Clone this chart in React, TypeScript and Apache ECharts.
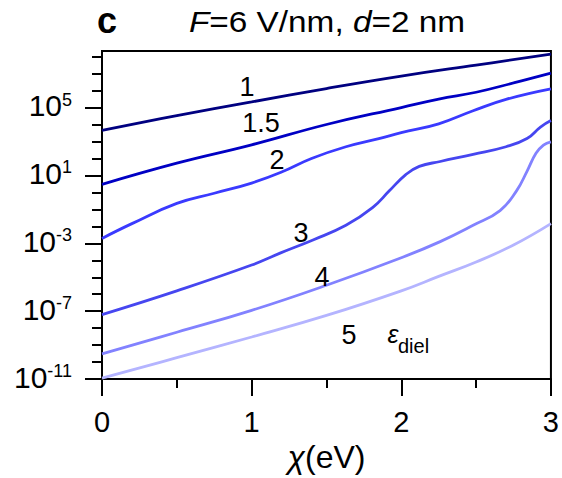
import React, { useEffect, useRef } from 'react';
import * as echarts from 'echarts';

// chi (eV) grid and log10 of the plotted quantity for each curve
const chi1 = [0, 0.5, 1, 1.5, 2, 2.5, 3];
const log1 = [3.65, 4.52, 5.33, 6.12, 6.85, 7.5, 8.14];

const chi15 = [0, 0.5, 1, 1.5, 2, 2.25, 2.5, 2.75, 3];
const log15 = [0.47, 1.72, 2.8, 4.0, 5.0, 5.5, 5.9, 6.45, 7.03];

const chi2 = [0, 0.2, 0.5, 0.75, 1, 1.2, 1.4, 1.63, 1.85, 2, 2.25, 2.48, 2.7, 3];
const log2 = [-2.71, -1.84, -0.65, -0.05, 0.55, 1.2, 2.0, 2.69, 3.17, 3.52, 4.04, 4.81, 5.48, 6.1];

const chi3 = [0, 0.5, 1, 1.19, 1.41, 1.63, 1.81, 1.92, 2.03, 2.12, 2.26, 2.48, 2.7, 2.84, 2.93, 3];
const log3 = [-7.2, -5.8, -4.28, -3.58, -2.8, -1.94, -0.88, 0.09, 1.05, 1.53, 1.82, 2.24, 2.69, 3.17, 3.85, 4.23];

const chi4 = [0, 0.5, 1, 1.5, 2, 2.26, 2.48, 2.66, 2.77, 2.84, 2.9, 2.95, 3];
const log4 = [-9.51, -8.24, -6.95, -5.47, -3.85, -2.9, -1.94, -1.07, 0.09, 1.24, 2.3, 2.78, 2.98];

const chi5 = [0, 0.5, 1, 1.5, 2, 2.25, 2.5, 2.75, 3];
const log5 = [-10.94, -9.74, -8.52, -7.25, -5.8, -4.95, -4.1, -3.1, -1.84];

const curveNames = ['1', '1.5', '2', '3', '4', '5'];
const curveColors = ['#000080', '#0000c4', '#3a3aff', '#4646f0', '#8282ff', '#b4b4ff'];
const curveChi = [chi1, chi15, chi2, chi3, chi4, chi5];
const curveLog = [log1, log15, log2, log3, log4, log5];

const yMin = -11;
const yMax = 8.33;
const decadeTicks = [-11, -10, -9, -8, -7, -6, -5, -4, -3, -2, -1, 0, 1, 2, 3, 4, 5, 6, 7, 8];
const labelledExps = [-11, -7, -3, 1, 5];
const xTicks = [0, 1, 2, 3];

const FONT = '"Liberation Sans", Arial, Helvetica, sans-serif';

export default function App() {
  const ref = useRef<HTMLDivElement>(null);

  useEffect(() => {
    if (!ref.current) return;
    const chart = echarts.init(ref.current, null, { renderer: 'svg' });
    const black = { color: '#000', width: 2 };

    const option: any = {
      animation: false,
      backgroundColor: '#fff',
      textStyle: { fontFamily: FONT },
      grid: {
        left: 102,
        right: 11,
        top: 51,
        bottom: 93,
        show: true,
        borderColor: '#000',
        borderWidth: 2,
        backgroundColor: 'transparent',
      },
      xAxis: {
        type: 'value',
        min: 0,
        max: 3,
        interval: 1,
        axisLine: { show: true, onZero: false, lineStyle: black },
        axisTick: { show: true, length: 17, lineStyle: black, customValues: xTicks },
        minorTick: { show: true, splitNumber: 2, length: 9, lineStyle: black },
        splitLine: { show: false },
        minorSplitLine: { show: false },
        axisLabel: { fontSize: 29, color: '#000', margin: 28, fontFamily: FONT, customValues: xTicks },
        name: '{c|χ}(eV)',
        nameLocation: 'middle',
        nameGap: 56,
        nameTextStyle: {
          fontSize: 32,
          color: '#000',
          fontFamily: FONT,
          rich: { c: { fontSize: 32, fontStyle: 'italic', color: '#000', fontFamily: FONT } },
        },
      },
      yAxis: [
        {
          type: 'value',
          min: yMin,
          max: yMax,
          interval: 1,
          position: 'left',
          axisLine: { show: true, onZero: false, lineStyle: black },
          axisTick: { show: true, length: 10, lineStyle: black, customValues: decadeTicks },
          axisLabel: { show: false },
          splitLine: { show: false },
        },
        {
          type: 'value',
          min: yMin,
          max: yMax,
          interval: 1,
          position: 'left',
          axisLine: { show: false, onZero: false },
          axisTick: { show: true, length: 17, lineStyle: black, customValues: labelledExps },
          splitLine: { show: false },
          axisLabel: {
            show: true,
            customValues: labelledExps,
            margin: 30,
            padding: [0, 0, 4, 0],
            formatter: (v: number) => `{a|10}{b|${v}}`,
            rich: {
              a: { fontSize: 30, lineHeight: 30, verticalAlign: 'bottom', color: '#000', fontFamily: FONT },
              b: { fontSize: 18, lineHeight: 17, padding: [0, 0, 17, 0], verticalAlign: 'top', color: '#000', fontFamily: FONT },
            },
          },
        },
      ],
      series: curveNames.map((name, k) => ({
        type: 'line',
        name,
        yAxisIndex: 0,
        data: curveChi[k].map((x, i) => [x, curveLog[k][i]]),
        showSymbol: false,
        smooth: 0.45,
        lineStyle: { color: curveColors[k], width: 2.8 },
        itemStyle: { color: curveColors[k] },
        silent: true,
        z: 3,
      })),
      graphic: [
        {
          type: 'text', x: 107, y: 20,
          style: { text: 'c', fontSize: 36, fontWeight: 'bold', fontFamily: FONT, fill: '#000', align: 'center', verticalAlign: 'middle' },
        },
        {
          type: 'text', x: 327, y: 22, scaleX: 1.15,
          style: {
            text: '{i|F}=6 V/nm, {i|d}=2 nm',
            fontSize: 29, fontFamily: FONT, fill: '#000', align: 'center', verticalAlign: 'middle',
            rich: { i: { fontSize: 29, fontStyle: 'italic', fontFamily: FONT, fill: '#000' } },
          },
        },
        ...[
          { t: '1', x: 247, y: 87 },
          { t: '1.5', x: 261, y: 123 },
          { t: '2', x: 277, y: 160 },
          { t: '3', x: 301, y: 233 },
          { t: '4', x: 322, y: 277 },
          { t: '5', x: 349, y: 335 },
        ].map((l) => ({
          type: 'text', x: l.x, y: l.y, z: 10,
          style: { text: l.t, fontSize: 27, fontFamily: FONT, fill: '#000', align: 'center', verticalAlign: 'middle' },
        })),
        {
          type: 'text', x: 393, y: 334, z: 10,
          style: { text: 'ε', fontSize: 25, fontStyle: 'italic', fontFamily: FONT, fill: '#000', align: 'center', verticalAlign: 'middle' },
        },
        {
          type: 'text', x: 413.5, y: 346, z: 10,
          style: { text: 'diel', fontSize: 20, fontFamily: FONT, fill: '#000', align: 'center', verticalAlign: 'middle' },
        },
      ],
    };

    chart.setOption(option);
    return () => chart.dispose();
  }, []);

  return (
    <div
      ref={ref}
      style={{ position: 'fixed', left: 0, top: 0, width: 562, height: 478, background: '#fff' }}
    />
  );
}
